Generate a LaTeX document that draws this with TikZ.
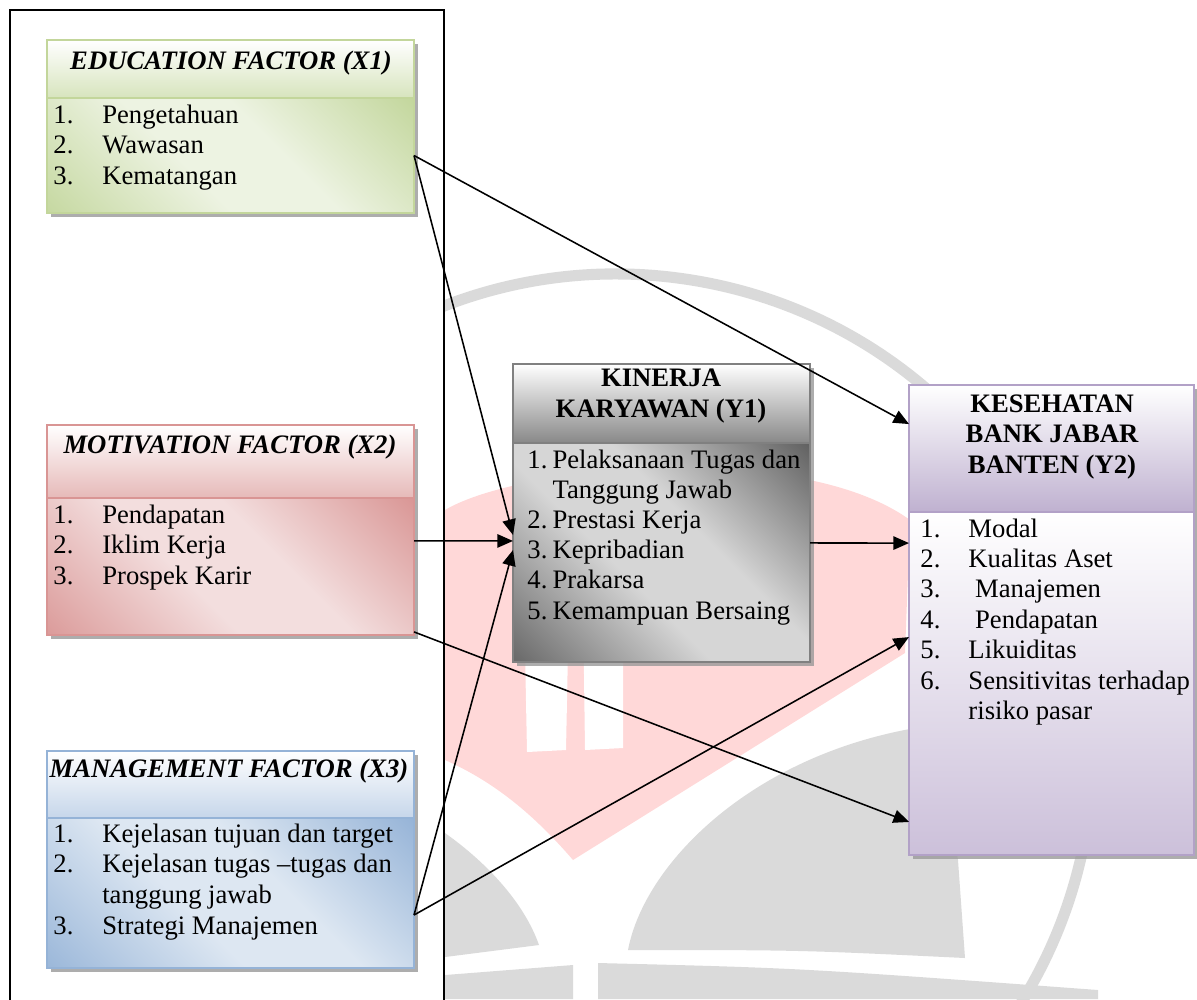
\documentclass[tikz,border=0pt]{standalone}
\usepackage{fontspec}
\setmainfont{Liberation Serif}
\usetikzlibrary{positioning,arrows.meta,shadows}

\definecolor{grnEdge}{HTML}{C3D69B}
\definecolor{grnH}{HTML}{D7E4BD}
\definecolor{grnD}{HTML}{C2D69B}
\definecolor{grnL}{HTML}{EDF3E2}
\definecolor{redEdge}{HTML}{D99594}
\definecolor{redH}{HTML}{E6B9B8}
\definecolor{redD}{HTML}{D99594}
\definecolor{redL}{HTML}{F3DEDE}
\definecolor{bluEdge}{HTML}{95B3D7}
\definecolor{bluH}{HTML}{C6D6EA}
\definecolor{bluD}{HTML}{95B3D7}
\definecolor{bluL}{HTML}{DDE7F2}
\definecolor{gryEdge}{HTML}{808080}
\definecolor{gryH}{HTML}{888888}
\definecolor{gryD}{HTML}{5E5E5E}
\definecolor{gryL}{HTML}{D6D6D6}
\definecolor{purEdge}{HTML}{B2A1C7}
\definecolor{purH}{HTML}{BFB1D0}
\definecolor{purD}{HTML}{CCC0DA}
\definecolor{wmPink}{HTML}{FFD8D8}
\definecolor{wmGrey}{HTML}{DADADA}

\pgfdeclarehorizontalshading{grnband}{100bp}{color(0bp)=(grnD); color(12bp)=(grnD); color(42bp)=(grnL); color(58bp)=(grnL); color(86bp)=(grnD); color(100bp)=(grnD)}
\pgfdeclarehorizontalshading{redband}{100bp}{color(0bp)=(redD); color(12bp)=(redD); color(42bp)=(redL); color(58bp)=(redL); color(86bp)=(redD); color(100bp)=(redD)}
\pgfdeclarehorizontalshading{bluband}{100bp}{color(0bp)=(bluD); color(12bp)=(bluD); color(42bp)=(bluL); color(58bp)=(bluL); color(86bp)=(bluD); color(100bp)=(bluD)}
\pgfdeclarehorizontalshading{gryband}{100bp}{color(0bp)=(gryD); color(12bp)=(gryD); color(42bp)=(gryL); color(58bp)=(gryL); color(86bp)=(gryD); color(100bp)=(gryD)}

\begin{document}
\begin{tikzpicture}[x=0.45pt,y=-0.45pt]
\tikzstyle{box}=[rectangle, inner sep=0pt, outer sep=0pt, line width=0.8pt,
	drop shadow={shadow xshift=1.6pt, shadow yshift=-1.6pt, fill=black!40, opacity=0.8}]
\tikzstyle{head}=[box, anchor=north west]
\tikzstyle{body}=[box]
\tikzstyle{ttl}=[anchor=base, inner sep=0pt, font=\fontsize{12}{13.8}\selectfont\bfseries\itshape]
\tikzstyle{ttly}=[anchor=base, inner sep=0pt, align=center, font=\fontsize{12}{13.6}\selectfont\bfseries]
\tikzstyle{lst}=[anchor=base west, inner sep=0pt, align=left]
\tikzstyle{arr}=[->, line width=0.7pt]
\tikzset{>={Triangle[length=7pt,width=6pt]}}
\useasboundingbox (0,0) rectangle (1197,999);

% watermark in the back
\fill[wmPink] (445,510) .. controls (520,465) and (800,440) .. (910,520)
	-- (905,653) -- (573,860) .. controls (530,810) and (490,780) .. (445,760) -- cycle;
\fill[white] (524,600) -- (569,600) -- (566,750) -- (527,752) -- cycle;
\fill[white] (583,600) -- (623,600) -- (623,748) -- (585,750) -- cycle;
\draw[wmGrey, line width=5pt] (616,751) ++(190:477) arc[start angle=190, end angle=400, radius=477];
\fill[wmGrey] (445,833) .. controls (490,865) and (525,905) .. (539,945) -- (445,957) -- cycle;
\fill[wmGrey] (445,975) -- (573,965) -- (573,999) -- (445,999) -- cycle;
\fill[wmGrey] (598,963) .. controls (800,968) .. (1098,990) -- (1098,999) -- (598,999) -- cycle;
\fill[wmGrey] (628,950) .. controls (645,860) and (760,748) .. (935,725)
	-- (958,860) -- (965,958) .. controls (800,950) .. (628,950) -- cycle;

% frame round the independent factors
\draw[line width=0.9pt, fill=white] (10,1010) rectangle (444,10);

% X1
\node[head, draw=grnEdge, top color=white, bottom color=grnH,
	minimum width=165.15pt, minimum height=26.1pt] (x1h) at (47,40) {};
\node[body, draw=grnEdge, shading=grnband, shading angle=45,
	minimum width=165.15pt, minimum height=51.75pt, below=0pt of x1h] (x1b) {};
\node[ttl] (x1t) at (231,69) {EDUCATION FACTOR (X1)};
\node[lst, font=\fontsize{12}{13.8}\selectfont] (x1l) at (53,123) {%
	\begin{tabular}[t]{@{}p{22pt}@{}l@{}}
	1. & Pengetahuan\\ 2. & Wawasan\\ 3. & Kematangan
	\end{tabular}};

% X2
\node[head, draw=redEdge, top color=white, bottom color=redH,
	minimum width=165.15pt, minimum height=32.85pt] (x2h) at (47,425) {};
\node[body, draw=redEdge, shading=redband, shading angle=45,
	minimum width=165.15pt, minimum height=61.65pt, below=0pt of x2h] (x2b) {};
\node[ttl] (x2t) at (230,453) {MOTIVATION FACTOR (X2)};
\node[lst, font=\fontsize{12}{13.8}\selectfont] (x2l) at (53,523) {%
	\begin{tabular}[t]{@{}p{22pt}@{}l@{}}
	1. & Pendapatan\\ 2. & Iklim Kerja\\ 3. & Prospek Karir
	\end{tabular}};

% X3
\node[head, draw=bluEdge, top color=white, bottom color=bluH,
	minimum width=165.15pt, minimum height=30.15pt] (x3h) at (47,751) {};
\node[body, draw=bluEdge, shading=bluband, shading angle=45,
	minimum width=165.15pt, minimum height=67.5pt, below=0pt of x3h] (x3b) {};
\node[ttl] (x3t) at (229,777) {MANAGEMENT FACTOR (X3)};
\node[lst, font=\fontsize{12}{13.9}\selectfont] (x3l) at (53,842) {%
	\begin{tabular}[t]{@{}p{22pt}@{}l@{}}
	1. & Kejelasan tujuan dan target\\ 2. & Kejelasan tugas –tugas dan\\
	   & tanggung jawab\\ 3. & Strategi Manajemen
	\end{tabular}};

% Y1
\node[head, draw=gryEdge, top color=white, bottom color=gryH,
	minimum width=133.65pt, minimum height=35.55pt] (y1h) at (513,364) {};
\node[body, draw=gryEdge, shading=gryband, shading angle=45,
	minimum width=133.65pt, minimum height=98.55pt, below=0pt of y1h] (y1b) {};
\node[ttly] (y1t) at (661,417) {KINERJA\\ KARYAWAN (Y1)};
\node[lst, font=\fontsize{12}{13.6}\selectfont] (y1l) at (527,468) {%
	\begin{tabular}[t]{@{}p{11.3pt}@{}l@{}}
	1. & Pelaksanaan Tugas dan\\ & Tanggung Jawab\\ 2. & Prestasi Kerja\\
	3. & Kepribadian\\ 4. & Prakarsa\\ 5. & Kemampuan Bersaing
	\end{tabular}};

% Y2
\node[head, draw=purEdge, top color=white, bottom color=purH,
	minimum width=128.25pt, minimum height=57.15pt] (y2h) at (909,385) {};
\node[body, draw=purEdge, top color=white, bottom color=purD,
	minimum width=128.25pt, minimum height=154.35pt, below=0pt of y2h] (y2b) {};
\node[ttly] (y2t) at (1052,473) {KESEHATAN\\ BANK JABAR\\ BANTEN (Y2)};
\node[lst, font=\fontsize{12}{13.7}\selectfont] (y2l) at (920,537) {%
	\begin{tabular}[t]{@{}p{21.6pt}@{}l@{}}
	1. & Modal\\ 2. & Kualitas Aset\\ 3. & \ Manajemen\\ 4. & \ Pendapatan\\
	5. & Likuiditas\\ 6. & Sensitivitas terhadap\\ & risiko pasar
	\end{tabular}};

% paths
\draw[arr] (x1b.east) -- ([yshift=7.9pt]y1b.west);
\draw[arr] (x1b.east) -- ([yshift=11pt]y2h.west);
\draw[arr] ([yshift=11.5pt]x2b.east) -- ([yshift=5.2pt]y1b.west);
\draw[arr] ([yshift=1.4pt]x2b.south east) -- ([yshift=-62.3pt]y2b.west);
\draw[arr] ([yshift=-9.9pt]x3b.east) -- ([yshift=1.1pt]y1b.west);
\draw[arr] ([yshift=-9.9pt]x3b.east) -- ([yshift=20.9pt]y2b.west);
\draw[arr] ([yshift=4.3pt]y1b.east) -- ([yshift=63.2pt]y2b.west);
\end{tikzpicture}
\end{document}
